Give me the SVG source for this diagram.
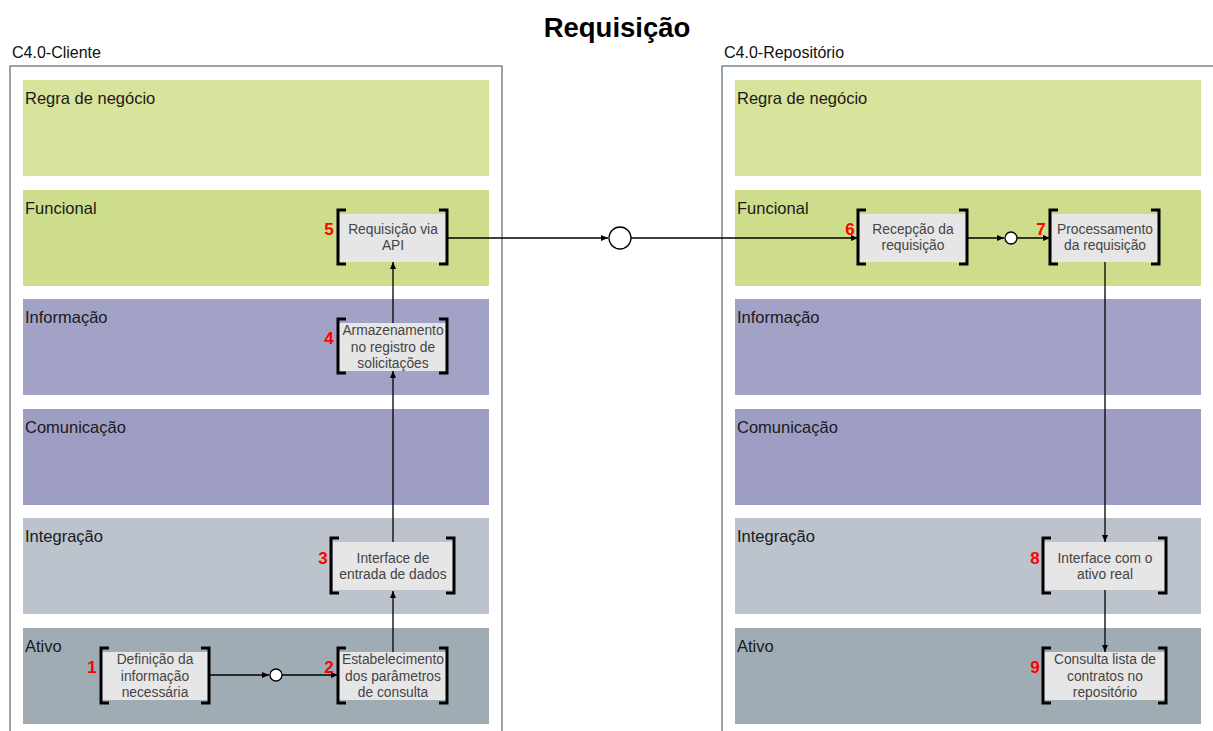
<svg xmlns="http://www.w3.org/2000/svg" width="1213" height="731" viewBox="0 0 1213 731">
<style>
.t{font-family:"Liberation Sans",Arial,sans-serif}
.title{font-size:27.5px;font-weight:bold;fill:#000}
.cl{font-size:16px;fill:#111}
.bl{font-size:16.5px;fill:#1a1a1a}
.nt{font-size:13.8px;fill:#444;text-anchor:middle}
.num{font-size:17px;font-weight:bold;fill:#ff0000;text-anchor:middle}
.box{fill:#e6e6e6}
.br{fill:none;stroke:#000;stroke-width:3}
.cont{fill:#fff;stroke:#556677;stroke-width:1.2}
.ln{fill:none;stroke:#000;stroke-width:1.3}
.circ{fill:#fff;stroke:#000;stroke-width:1.3}
</style>
<defs>
<marker id="ah" markerWidth="8" markerHeight="8" refX="7" refY="4" orient="auto" markerUnits="userSpaceOnUse">
<path d="M0,1 L7,4 L0,7 Z" fill="#000"/>
</marker>
</defs>
<rect width="1213" height="731" fill="#fff"/>
<text class="t title" x="617" y="37" text-anchor="middle">Requisição</text>

<g id="cliente">
<text class="t cl" x="12" y="58">C4.0-Cliente</text>
<rect class="cont" x="10" y="66" width="492" height="680"/>
<rect x="23" y="80" width="466" height="96" fill="#d8e39b"/>
<text class="t bl" x="25" y="104">Regra de negócio</text>
<rect x="23" y="190" width="466" height="96" fill="#cddd8b"/>
<text class="t bl" x="25" y="214">Funcional</text>
<rect x="23" y="299" width="466" height="96" fill="#a2a2c7"/>
<text class="t bl" x="25" y="323">Informação</text>
<rect x="23" y="409" width="466" height="96" fill="#9e9ec4"/>
<text class="t bl" x="25" y="433">Comunicação</text>
<rect x="23" y="518" width="466" height="96" fill="#bcc3cc"/>
<text class="t bl" x="25" y="542">Integração</text>
<rect x="23" y="628" width="466" height="96" fill="#a0acb4"/>
<text class="t bl" x="25" y="652">Ativo</text>
</g>

<g id="repositorio">
<text class="t cl" x="724" y="58">C4.0-Repositório</text>
<rect class="cont" x="722" y="66" width="510" height="680"/>
<rect x="735" y="80" width="466" height="96" fill="#d8e39b"/>
<text class="t bl" x="737" y="104">Regra de negócio</text>
<rect x="735" y="190" width="466" height="96" fill="#cddd8b"/>
<text class="t bl" x="737" y="214">Funcional</text>
<rect x="735" y="299" width="466" height="96" fill="#a2a2c7"/>
<text class="t bl" x="737" y="323">Informação</text>
<rect x="735" y="409" width="466" height="96" fill="#9e9ec4"/>
<text class="t bl" x="737" y="433">Comunicação</text>
<rect x="735" y="518" width="466" height="96" fill="#bcc3cc"/>
<text class="t bl" x="737" y="542">Integração</text>
<rect x="735" y="628" width="466" height="96" fill="#a0acb4"/>
<text class="t bl" x="737" y="652">Ativo</text>
</g>

<g id="connectors">
<line class="ln" x1="210" y1="675" x2="269" y2="675" marker-end="url(#ah)"/>
<line class="ln" x1="282" y1="675" x2="338" y2="675" marker-end="url(#ah)"/>
<line class="ln" x1="393" y1="652" x2="393" y2="591" marker-end="url(#ah)"/>
<line class="ln" x1="393" y1="542" x2="393" y2="371" marker-end="url(#ah)"/>
<line class="ln" x1="393" y1="323" x2="393" y2="262" marker-end="url(#ah)"/>
<line class="ln" x1="447" y1="238" x2="608" y2="238" marker-end="url(#ah)"/>
<line class="ln" x1="631" y1="238" x2="858" y2="238" marker-end="url(#ah)"/>
<line class="ln" x1="968" y1="238" x2="1004" y2="238" marker-end="url(#ah)"/>
<line class="ln" x1="1017" y1="238" x2="1050" y2="238" marker-end="url(#ah)"/>
<line class="ln" x1="1105" y1="262" x2="1105" y2="542" marker-end="url(#ah)"/>
<line class="ln" x1="1105" y1="590" x2="1105" y2="652" marker-end="url(#ah)"/>
<circle class="circ" cx="620" cy="238" r="11"/>
<circle class="circ" cx="276" cy="675" r="6"/>
<circle class="circ" cx="1011" cy="238" r="6"/>
</g>

<g id="n1">
<rect class="box" x="102" y="652" width="106" height="48"/>
<path class="br" d="M109,648 H101 V703 H109 M201,648 H209 V703 H201"/>
<text class="t nt" x="155" y="664">Definição da</text>
<text class="t nt" x="155" y="681">informação</text>
<text class="t nt" x="155" y="697">necessária</text>
<text class="t num" x="92" y="673">1</text>
</g>
<g id="n2">
<rect class="box" x="339" y="652" width="108" height="48"/>
<path class="br" d="M346,648 H338 V703 H346 M439,648 H447 V703 H439"/>
<text class="t nt" x="393" y="664">Estabelecimento</text>
<text class="t nt" x="393" y="681">dos parâmetros</text>
<text class="t nt" x="393" y="697">de consulta</text>
<text class="t num" x="329" y="673">2</text>
</g>
<g id="n3">
<rect class="box" x="333" y="542" width="120" height="48"/>
<path class="br" d="M339,538 H331 V593 H339 M446,538 H454 V593 H446"/>
<text class="t nt" x="393" y="563">Interface de</text>
<text class="t nt" x="393" y="579">entrada de dados</text>
<text class="t num" x="323" y="564">3</text>
</g>
<g id="n4">
<rect class="box" x="339" y="323" width="108" height="48"/>
<path class="br" d="M346,319 H338 V373 H346 M439,319 H447 V373 H439"/>
<text class="t nt" x="393" y="335">Armazenamento</text>
<text class="t nt" x="393" y="352">no registro de</text>
<text class="t nt" x="393" y="368">solicitações</text>
<text class="t num" x="329" y="344">4</text>
</g>
<g id="n5">
<rect class="box" x="339" y="214" width="108" height="48"/>
<path class="br" d="M346,210 H338 V264 H346 M439,210 H447 V264 H439"/>
<text class="t nt" x="393" y="234">Requisição via</text>
<text class="t nt" x="393" y="250">API</text>
<text class="t num" x="329" y="235">5</text>
</g>
<g id="n6">
<rect class="box" x="859" y="214" width="108" height="48"/>
<path class="br" d="M866,210 H858 V264 H866 M959,210 H967 V264 H959"/>
<text class="t nt" x="913" y="234">Recepção da</text>
<text class="t nt" x="913" y="250">requisição</text>
<text class="t num" x="850" y="235">6</text>
</g>
<g id="n7">
<rect class="box" x="1051" y="214" width="108" height="48"/>
<path class="br" d="M1058,210 H1050 V264 H1058 M1151,210 H1159 V264 H1151"/>
<text class="t nt" x="1105" y="234">Processamento</text>
<text class="t nt" x="1105" y="250">da requisição</text>
<text class="t num" x="1041" y="235">7</text>
</g>
<g id="n8">
<rect class="box" x="1044" y="542" width="122" height="48"/>
<path class="br" d="M1051,538 H1043 V593 H1051 M1158,538 H1166 V593 H1158"/>
<text class="t nt" x="1105" y="563">Interface com o</text>
<text class="t nt" x="1105" y="579">ativo real</text>
<text class="t num" x="1035" y="564">8</text>
</g>
<g id="n9">
<rect class="box" x="1044" y="652" width="122" height="48"/>
<path class="br" d="M1051,648 H1043 V703 H1051 M1158,648 H1166 V703 H1158"/>
<text class="t nt" x="1105" y="664">Consulta lista de</text>
<text class="t nt" x="1105" y="681">contratos no</text>
<text class="t nt" x="1105" y="697">repositório</text>
<text class="t num" x="1035" y="673">9</text>
</g>
</svg>
